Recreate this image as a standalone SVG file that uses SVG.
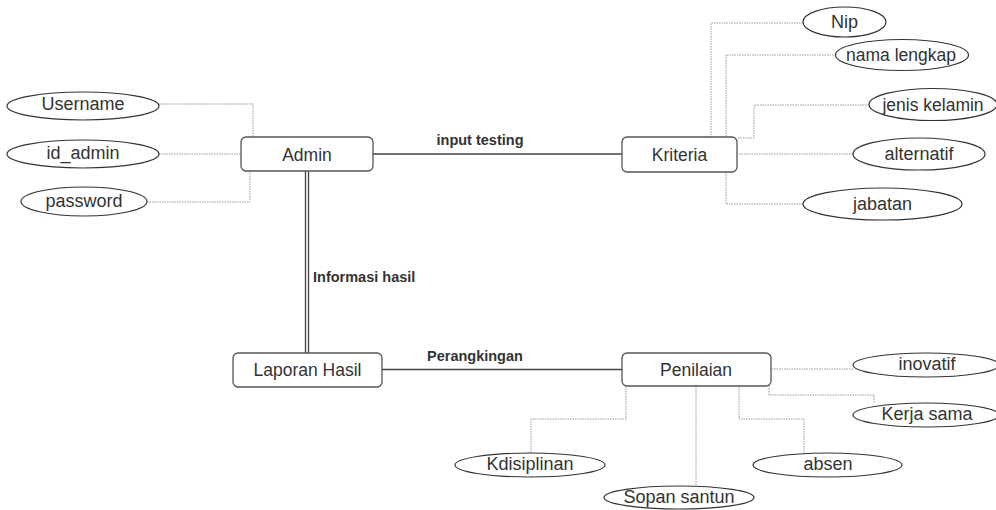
<svg xmlns="http://www.w3.org/2000/svg" width="996" height="510" viewBox="0 0 996 510">
<style>
.box{fill:#fff;stroke:#555;stroke-width:1.3}
.ell{fill:#fff;stroke:#333;stroke-width:1.2}
.t{font-family:"Liberation Sans",Arial,sans-serif;font-size:17.5px;fill:#333;text-anchor:middle}
.e{font-size:18px}
.lbl{font-family:"Liberation Sans",Arial,sans-serif;font-size:14.5px;font-weight:bold;fill:#333}
.rel{fill:none;stroke:#444;stroke-width:1.3}
.attr{fill:none;stroke:#999;stroke-width:1;stroke-dasharray:1.5 1}
</style>
<rect width="996" height="510" fill="#fff"/>
<g id="connectors">
<path class="rel" d="M373,154 H622"/>
<path class="rel" d="M305.5,171 V353 M308.5,171 V353"/>
<path class="rel" d="M382,369.5 H622"/>
<path class="attr" d="M159,104 H253 V137"/>
<path class="attr" d="M159,154 H241"/>
<path class="attr" d="M147,202 H250 V171"/>
<path class="attr" d="M803,23 H711 V137"/>
<path class="attr" d="M836,55 H726 V137"/>
<path class="attr" d="M869,105 H754 V138 H737"/>
<path class="attr" d="M853,154 H737"/>
<path class="attr" d="M803,204 H726 V172"/>
<path class="attr" d="M853,369 H771"/>
<path class="attr" d="M769,386 V395 H874 V403"/>
<path class="attr" d="M626,386 V419 H531 V453"/>
<path class="attr" d="M696,386 V486"/>
<path class="attr" d="M739,386 V419 H804 V453"/>
<text class="lbl" x="480" y="145" text-anchor="middle">input testing</text>
<text class="lbl" x="313" y="282">Informasi hasil</text>
<text class="lbl" x="427" y="361">Perangkingan</text>
</g>
<g id="admin"><rect class="box" x="241" y="137" width="132" height="34" rx="5"/><text class="t" x="307" y="160.5">Admin</text></g>
<g id="kriteria"><rect class="box" x="622" y="137" width="115" height="35" rx="5"/><text class="t" x="679.5" y="160.5">Kriteria</text></g>
<g id="laporan"><rect class="box" x="233" y="353" width="149" height="34" rx="5"/><text class="t" x="307.5" y="376">Laporan Hasil</text></g>
<g id="penilaian"><rect class="box" x="622" y="353" width="149" height="33" rx="5"/><text class="t" x="696" y="375.5">Penilaian</text></g>
<g id="username"><ellipse class="ell" cx="83" cy="106" rx="76" ry="14"/><text class="t e" x="83" y="110">Username</text></g>
<g id="id_admin"><ellipse class="ell" cx="83" cy="154" rx="76" ry="14"/><text class="t e" x="83" y="159">id_admin</text></g>
<g id="password"><ellipse class="ell" cx="84" cy="201.5" rx="63" ry="14.5"/><text class="t e" x="84" y="207">password</text></g>
<g id="nip"><ellipse class="ell" cx="844.5" cy="22" rx="41.5" ry="15"/><text class="t e" x="844.5" y="28">Nip</text></g>
<g id="nama_lengkap"><ellipse class="ell" cx="902" cy="55" rx="66.5" ry="15.5"/><text class="t" x="901" y="61">nama lengkap</text></g>
<g id="jenis_kelamin"><ellipse class="ell" cx="933" cy="104.5" rx="64" ry="16"/><text class="t" x="933" y="110.5">jenis kelamin</text></g>
<g id="alternatif"><ellipse class="ell" cx="919" cy="154" rx="66" ry="16"/><text class="t e" x="919" y="160">alternatif</text></g>
<g id="jabatan"><ellipse class="ell" cx="882.5" cy="204" rx="79.5" ry="16"/><text class="t e" x="882.5" y="210">jabatan</text></g>
<g id="inovatif"><ellipse class="ell" cx="926" cy="365" rx="73" ry="12"/><text class="t e" x="927" y="370">inovatif</text></g>
<g id="kerja_sama"><ellipse class="ell" cx="926" cy="415" rx="73" ry="12"/><text class="t e" x="927" y="420">Kerja sama</text></g>
<g id="absen"><ellipse class="ell" cx="827.5" cy="465" rx="74.5" ry="12"/><text class="t e" x="828" y="470">absen</text></g>
<g id="kdisiplinan"><ellipse class="ell" cx="530" cy="465" rx="75" ry="12"/><text class="t e" x="530" y="470">Kdisiplinan</text></g>
<g id="sopan_santun"><ellipse class="ell" cx="679" cy="497.5" rx="75" ry="11.5"/><text class="t e" x="679" y="503">Sopan santun</text></g>
</svg>
